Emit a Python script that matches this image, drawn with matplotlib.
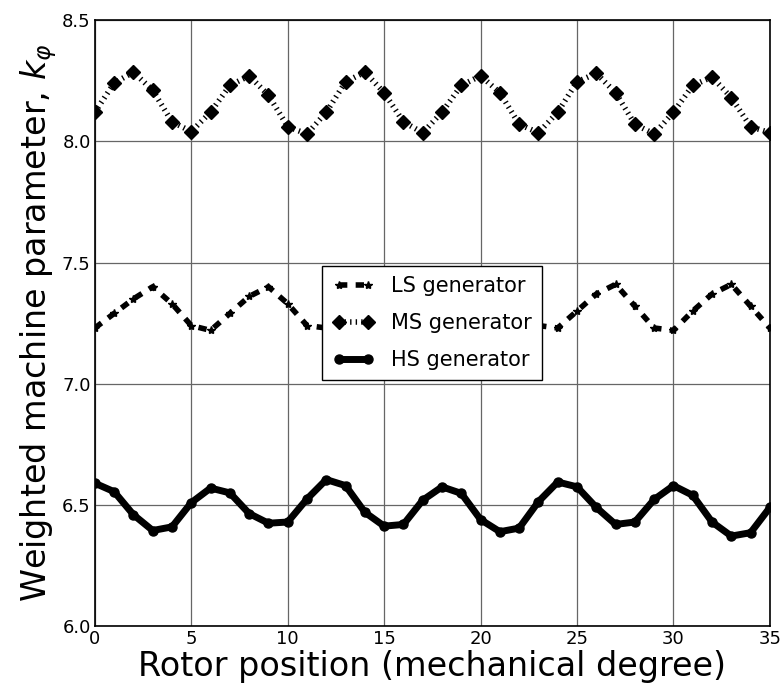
import numpy as np
import matplotlib
matplotlib.use('Agg')
import matplotlib.pyplot as plt

# posicion del rotor (grados mecanicos)
posicion = np.arange(0, 36)

# parametro ponderado para cada generador
ms_gen = [8.12, 8.24, 8.285, 8.21, 8.08, 8.04, 8.12, 8.23, 8.27, 8.19,
          8.06, 8.03, 8.12, 8.245, 8.285, 8.20, 8.08, 8.035, 8.12, 8.23,
          8.27, 8.20, 8.07, 8.035, 8.12, 8.245, 8.28, 8.20, 8.07, 8.03,
          8.12, 8.23, 8.265, 8.18, 8.06, 8.035]
ls_gen = [7.23, 7.29, 7.35, 7.40, 7.33, 7.24, 7.22, 7.29, 7.36, 7.40,
          7.33, 7.24, 7.23, 7.29, 7.36, 7.40, 7.33, 7.24, 7.22, 7.29,
          7.36, 7.40, 7.33, 7.24, 7.23, 7.30, 7.37, 7.41, 7.32, 7.23,
          7.22, 7.30, 7.37, 7.41, 7.32, 7.23]
hs_gen = [6.59, 6.555, 6.46, 6.395, 6.41, 6.51, 6.57, 6.55, 6.465, 6.425,
          6.43, 6.525, 6.605, 6.58, 6.47, 6.413, 6.42, 6.52, 6.575, 6.548,
          6.44, 6.39, 6.405, 6.514, 6.595, 6.575, 6.49, 6.42, 6.43, 6.523,
          6.58, 6.54, 6.43, 6.372, 6.386, 6.49]

plt.rcParams['lines.scale_dashes'] = False

fig = plt.figure(figsize=(7.84, 6.89), dpi=100)
ax = fig.add_axes([0.121, 0.091, 0.861, 0.88])

ax.plot(posicion, ls_gen, color='black', linestyle=(0, (6, 6)), linewidth=4,
        marker='*', markersize=6, label='LS generator')
ax.plot(posicion, ms_gen, color='black', linestyle=(0, (1, 3)), linewidth=4,
        marker='D', markersize=7, label='MS generator')
ax.plot(posicion, hs_gen, color='black', linestyle='-', linewidth=5,
        marker='o', markersize=6.5, label='HS generator')

ax.set_xlim(0, 35)
ax.set_ylim(6.0, 8.5)
ax.set_xticks([0, 5, 10, 15, 20, 25, 30, 35])
ax.set_yticks([6.0, 6.5, 7.0, 7.5, 8.0, 8.5])
ax.tick_params(labelsize=13, direction='in', length=0, pad=3)
ax.grid(True, color='0.4', linewidth=0.9)
for s in ax.spines.values():
    s.set_linewidth(1.2)

ax.set_xlabel('Rotor position (mechanical degree)', fontsize=24, labelpad=1)
ax.set_ylabel(r'Weighted machine parameter, $k_\varphi$', fontsize=24, labelpad=2)

leg = ax.legend(loc='center', fontsize=15, numpoints=2, handlelength=2.0,
                handletextpad=0.8, fancybox=False, framealpha=1,
                edgecolor='black', borderpad=0.5, labelspacing=0.8,
                borderaxespad=0.3)
leg.get_frame().set_linewidth(1.0)

plt.savefig('out.png', dpi=100)
